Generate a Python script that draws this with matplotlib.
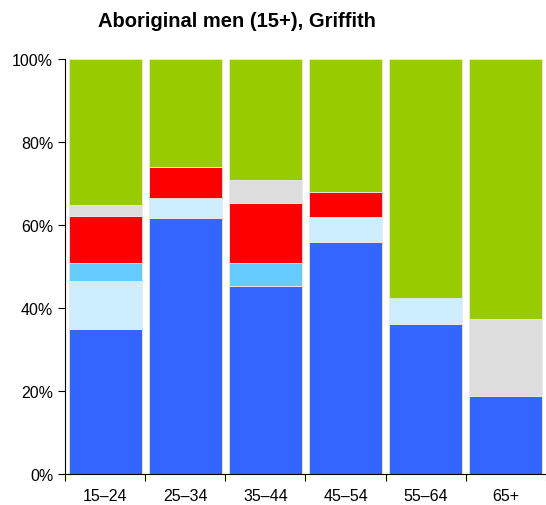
import numpy as np
import matplotlib
matplotlib.use("Agg")
import matplotlib.pyplot as plt

plt.rcParams['font.family'] = ['Liberation Sans', 'DejaVu Sans']

# age groups and stacked shares (%), bottom to top
ages = ["15–24", "25–34", "35–44", "45–54", "55–64", "65+"]
blue = [35.0, 61.7, 45.4, 56.0, 36.1, 18.7]
light_blue = [11.5, 4.9, 0.0, 5.9, 6.3, 0.0]
mid_blue = [4.3, 0.0, 5.5, 0.0, 0.0, 0.0]
red = [11.4, 7.4, 14.5, 6.0, 0.0, 0.0]
grey = [2.6, 0.0, 5.5, 0.0, 0.0, 18.7]
green = [35.2, 26.0, 29.1, 32.1, 57.6, 62.6]

series = [blue, light_blue, mid_blue, red, grey, green]
colors = ["#3366FF", "#CCEEFF", "#66CCFF", "#FF0000", "#DDDDDD", "#99CC00"]

fig = plt.figure(figsize=(5.46, 5.06), dpi=100)
ax = fig.add_axes([0.119, 0.0613, 0.881, 0.8200])

x = np.arange(len(ages))
bottom = np.zeros(len(ages))
for vals, c in zip(series, colors):
    vals = np.array(vals)
    ax.bar(x, vals, bottom=bottom, width=0.91, color=c,
           edgecolor="#e8e8e8", linewidth=0.6)
    bottom += vals

ax.set_xlim(-0.5, len(ages) - 0.5)
ax.set_ylim(0, 100)
ax.set_yticks([0, 20, 40, 60, 80, 100])
ax.set_yticklabels(["0%", "20%", "40%", "60%", "80%", "100%"], fontsize=11.5)

# boundary ticks, labels centred on bars
ax.set_xticks(np.arange(len(ages) + 1) - 0.5)
ax.set_xticklabels([])
ax.set_xticks(x, minor=True)
ax.set_xticklabels(ages, minor=True, fontsize=11.5)
ax.tick_params(axis="x", which="minor", length=0, pad=10)
ax.tick_params(axis="x", which="major", length=5, direction="out")
ax.tick_params(axis="y", length=5, direction="out")

ax.spines["top"].set_visible(False)
ax.spines["right"].set_visible(False)

fig.text(0.434, 0.957, "Aboriginal men (15+), Griffith", ha="center", va="center",
         fontsize=14.5, fontweight="bold")

fig.savefig("out.png", dpi=100)
